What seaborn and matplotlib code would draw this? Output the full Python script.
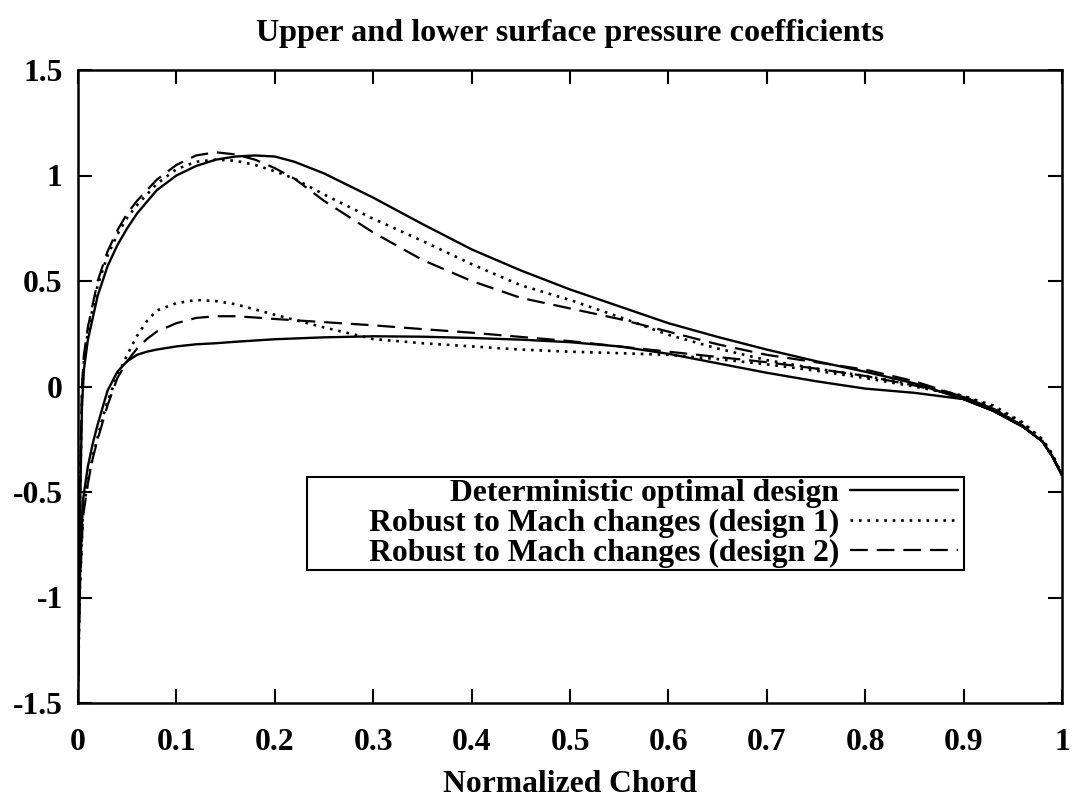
import numpy as np
import pandas as pd
import matplotlib
matplotlib.use("Agg")
import matplotlib.pyplot as plt
from matplotlib.patches import Rectangle
import seaborn as sns

# Chord stations (x/c) for the upper and lower surfaces
chord_upper = [0.0, 0.002, 0.004, 0.006, 0.01, 0.02, 0.03, 0.04, 0.05, 0.06, 0.08,
               0.10, 0.12, 0.14, 0.16, 0.18, 0.20, 0.22, 0.25, 0.30, 0.35, 0.40,
               0.45, 0.50, 0.55, 0.60, 0.65, 0.70, 0.75, 0.80, 0.85, 0.90, 0.93,
               0.96, 0.98, 0.99, 1.0]
chord_lower = [0.0, 0.002, 0.005, 0.01, 0.015, 0.02, 0.025, 0.03, 0.04, 0.05, 0.06,
               0.07, 0.08, 0.10, 0.12, 0.14, 0.16, 0.18, 0.20, 0.25, 0.30, 0.35,
               0.40, 0.45, 0.50, 0.55, 0.60, 0.65, 0.70, 0.75, 0.80, 0.85, 0.90,
               0.93, 0.96, 0.98, 0.99, 1.0]

# Deterministic optimal design
det_upper = [-1.40, -0.60, -0.10, 0.08, 0.22, 0.43, 0.57, 0.67, 0.75, 0.82, 0.93,
             1.00, 1.045, 1.075, 1.09, 1.095, 1.09, 1.065, 1.01, 0.895, 0.77, 0.65,
             0.55, 0.46, 0.38, 0.30, 0.235, 0.175, 0.12, 0.07, 0.015, -0.06, -0.115,
             -0.19, -0.26, -0.33, -0.42]
det_lower = [-1.40, -0.90, -0.54, -0.38, -0.27, -0.18, -0.10, -0.02, 0.07, 0.12, 0.15,
             0.165, 0.175, 0.19, 0.20, 0.205, 0.212, 0.218, 0.224, 0.233, 0.238, 0.236,
             0.230, 0.222, 0.21, 0.19, 0.155, 0.11, 0.065, 0.025, -0.01, -0.03, -0.06,
             -0.115, -0.19, -0.26, -0.33, -0.42]

# Robust to Mach changes (design 1)
rob1_upper = [-1.40, -0.55, -0.05, 0.12, 0.26, 0.48, 0.62, 0.72, 0.80, 0.86, 0.96,
              1.03, 1.065, 1.075, 1.07, 1.05, 1.02, 0.985, 0.91, 0.795, 0.69, 0.58,
              0.48, 0.41, 0.33, 0.245, 0.18, 0.125, 0.085, 0.05, 0.01, -0.045, -0.10,
              -0.175, -0.25, -0.32, -0.42]
rob1_lower = [-1.40, -0.95, -0.60, -0.45, -0.33, -0.24, -0.15, -0.07, 0.05, 0.15, 0.24,
              0.31, 0.36, 0.395, 0.41, 0.405, 0.39, 0.365, 0.34, 0.28, 0.225, 0.205,
              0.19, 0.175, 0.165, 0.158, 0.15, 0.13, 0.105, 0.075, 0.04, 0.0, -0.045,
              -0.09, -0.17, -0.25, -0.32, -0.42]

# Robust to Mach changes (design 2)
rob2_upper = [-1.40, -0.50, 0.0, 0.15, 0.28, 0.50, 0.64, 0.74, 0.82, 0.88, 0.98,
              1.05, 1.095, 1.11, 1.10, 1.075, 1.035, 0.985, 0.88, 0.73, 0.60, 0.50,
              0.42, 0.37, 0.32, 0.26, 0.20, 0.15, 0.115, 0.08, 0.025, -0.05, -0.105,
              -0.185, -0.26, -0.33, -0.42]
rob2_lower = [-1.40, -0.95, -0.62, -0.46, -0.34, -0.25, -0.17, -0.09, 0.04, 0.12, 0.18,
              0.225, 0.26, 0.30, 0.325, 0.333, 0.333, 0.327, 0.32, 0.305, 0.29, 0.272,
              0.255, 0.235, 0.215, 0.19, 0.165, 0.14, 0.115, 0.085, 0.05, 0.005, -0.05,
              -0.105, -0.185, -0.26, -0.33, -0.42]

labels = ["Deterministic optimal design",
          "Robust to Mach changes (design 1)",
          "Robust to Mach changes (design 2)"]
styles = ["-", (0, (1, 2.2)), (0, (8, 4))]
widths = [1.7, 1.9, 1.6]
designs = [(det_upper, det_lower), (rob1_upper, rob1_lower), (rob2_upper, rob2_lower)]

sns.set_theme(style="white")
plt.rcParams["font.family"] = ["Liberation Serif", "DejaVu Serif"]
plt.rcParams["font.weight"] = "bold"
plt.rcParams["text.color"] = "black"
plt.rcParams["axes.labelcolor"] = "black"
plt.rcParams["xtick.color"] = "black"
plt.rcParams["ytick.color"] = "black"

fig = plt.figure(figsize=(10.75, 8.01), dpi=100)
ax = fig.add_axes([78 / 1075, 1 - 703 / 801, (1062 - 78) / 1075, (703 - 70) / 801])

FS = 22.8

for label, ls, lw, (cu, cl) in zip(labels, styles, widths, designs):
    # one closed trace: trailing edge -> leading edge along the upper surface,
    # then back to the trailing edge along the lower surface
    xs = list(reversed(chord_upper)) + chord_lower[1:]
    ys = list(reversed(cu)) + cl[1:]
    df = pd.DataFrame({"x": xs, "cp": ys})
    sns.lineplot(data=df, x="x", y="cp", sort=False, estimator=None,
                 color="black", linewidth=lw, linestyle=ls, label=label, ax=ax,
                 legend=False)

ax.set_xlim(0, 1)
ax.set_ylim(-1.5, 1.5)
ax.set_xticks(np.arange(0, 1.01, 0.1))
ax.set_xticklabels(["0", "0.1", "0.2", "0.3", "0.4", "0.5", "0.6", "0.7", "0.8", "0.9", "1"])
ax.set_yticks([-1.5, -1, -0.5, 0, 0.5, 1, 1.5])
ax.set_yticklabels(["-1.5", "-1", "-0.5", "0", "0.5", "1", "1.5"])
ax.tick_params(axis="both", which="both", direction="in", length=10, width=1.5,
               top=True, right=True, bottom=True, left=True, labelsize=FS,
               colors="black")
ax.tick_params(axis="x", pad=18)
ax.tick_params(axis="y", pad=11)
for lab in ax.get_xticklabels() + ax.get_yticklabels():
    lab.set_fontweight("bold")
for sp in ax.spines.values():
    sp.set_visible(True)
    sp.set_color("black")
    sp.set_linewidth(1.8)

ax.set_xlabel("Normalized Chord", fontsize=FS, fontweight="bold", labelpad=9,
              color="black")
ax.set_ylabel("")
ax.set_title("Upper and lower surface pressure coefficients", fontsize=23.2,
             fontweight="bold", pad=21, color="black")
ax.grid(False)

# Key box
key_box = Rectangle((307 / 1075, 1 - 570 / 801), (964 - 307) / 1075,
                    (570 - 477) / 801, transform=fig.transFigure,
                    facecolor="white", edgecolor="black", linewidth=1.5,
                    zorder=5, clip_on=False)
ax.add_patch(key_box)
handles = ax.get_lines()[:3]
leg = ax.legend(handles, labels, loc="upper right", markerfirst=False,
                bbox_to_anchor=(958 / 1075, 1 - 479 / 801),
                bbox_transform=fig.transFigure, frameon=False,
                prop={"weight": "bold", "size": FS}, handlelength=3.4,
                handletextpad=0.35, labelspacing=0.03, borderpad=0.0,
                borderaxespad=0, labelcolor="black")
leg.set_zorder(6)

fig.savefig("out.png", dpi=100, facecolor="white")
